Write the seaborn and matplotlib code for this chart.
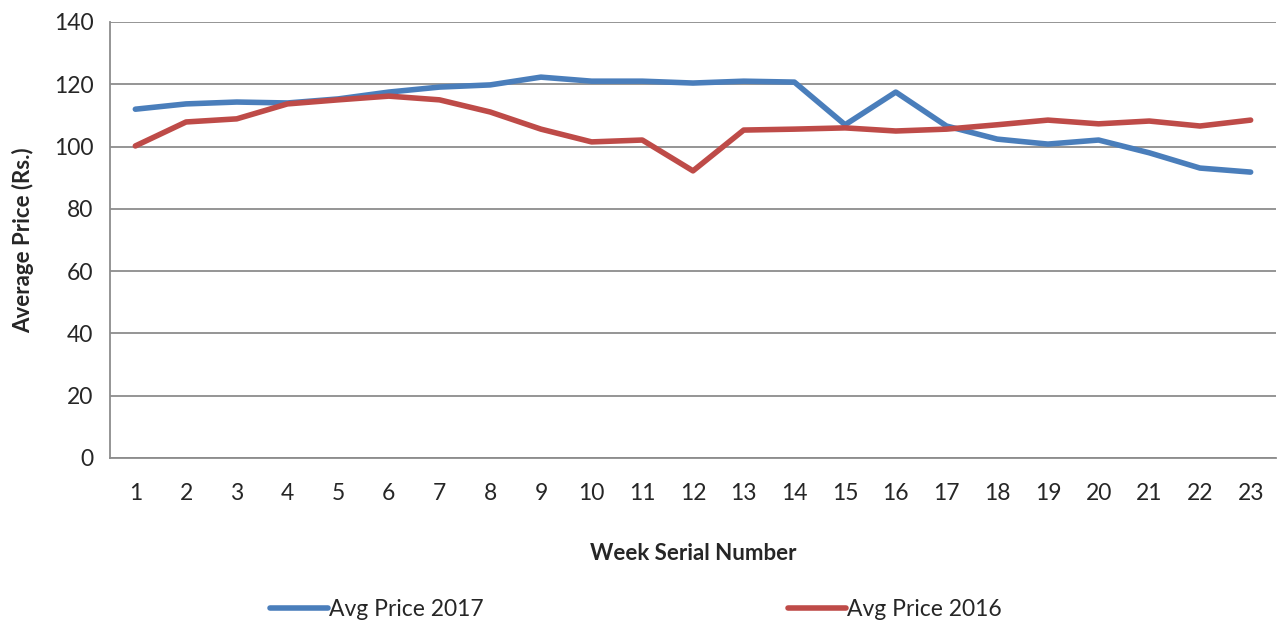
import numpy as np
import pandas as pd
import matplotlib
matplotlib.use("Agg")
import matplotlib.pyplot as plt
import seaborn as sns

weeks = list(range(1, 24))
price_2017 = [112.0, 113.7, 114.3, 114.0, 115.3, 117.5, 119.1, 119.8, 122.3, 121.0,
              121.0, 120.4, 121.0, 120.7, 107.0, 117.5, 106.6, 102.4, 100.8, 102.1,
              98.0, 93.1, 91.8]
price_2016 = [100.2, 107.9, 108.9, 113.7, 115.0, 116.2, 115.0, 111.1, 105.6, 101.5,
              102.1, 92.2, 105.3, 105.6, 106.0, 105.0, 105.6, 107.0, 108.5, 107.3,
              108.2, 106.6, 108.5]
series_names = ["Avg Price 2017", "Avg Price 2016"]
y_ticks = [0, 20, 40, 60, 80, 100, 120, 140]

df = pd.DataFrame({
    "week": weeks * 2,
    "price": price_2017 + price_2016,
    "series": [series_names[0]] * len(weeks) + [series_names[1]] * len(weeks),
})

sns.set_style("white")
plt.rcParams["font.family"] = ["Lato", "DejaVu Sans"]

fig = plt.figure(figsize=(12.87, 6.26), dpi=100)
ax = fig.add_axes([110 / 1287, 1 - 458 / 626, (1276 - 110) / 1287, (458 - 22) / 626])

sns.lineplot(data=df, x="week", y="price", hue="series",
             palette={series_names[0]: "#4a7ebb", series_names[1]: "#be4b48"},
             linewidth=4, ax=ax, legend=False, solid_capstyle="round")

ax.set_xlim(0.5, 23.5)
ax.set_ylim(0, 140)
ax.set_yticks(y_ticks)
ax.set_xticks(weeks)
ax.set_xticks(np.arange(0.5, 24, 1), minor=True)
ax.grid(axis="y", color="#8c8c8c", linewidth=1.3)
ax.set_axisbelow(True)
for side in ["top", "right"]:
    ax.spines[side].set_visible(False)
for side in ["left", "bottom"]:
    ax.spines[side].set_color("#8c8c8c")
    ax.spines[side].set_linewidth(1.3)
ax.tick_params(axis="y", which="major", length=6, width=1.3, color="#8c8c8c",
               labelsize=16.5, pad=6)
ax.tick_params(axis="x", which="major", length=0, labelsize=16.5, pad=18)
ax.tick_params(axis="x", which="minor", length=6, width=1.3, color="#8c8c8c")

ax.set_xlabel("Week Serial Number", fontsize=16, fontweight="bold", labelpad=28)
ax.set_ylabel("Average Price (Rs.)", fontsize=16, fontweight="bold", labelpad=14)

handles = [plt.Line2D([], [], color="#4a7ebb", linewidth=4, solid_capstyle="round"),
           plt.Line2D([], [], color="#be4b48", linewidth=4, solid_capstyle="round")]
fig.legend(handles, series_names, loc="center", bbox_to_anchor=(636 / 1287, 1 - 610 / 626),
           ncol=2, frameon=False, fontsize=16.5, columnspacing=13.3, handlelength=2.5,
           handletextpad=0.05)

fig.savefig("out.png", dpi=100)
